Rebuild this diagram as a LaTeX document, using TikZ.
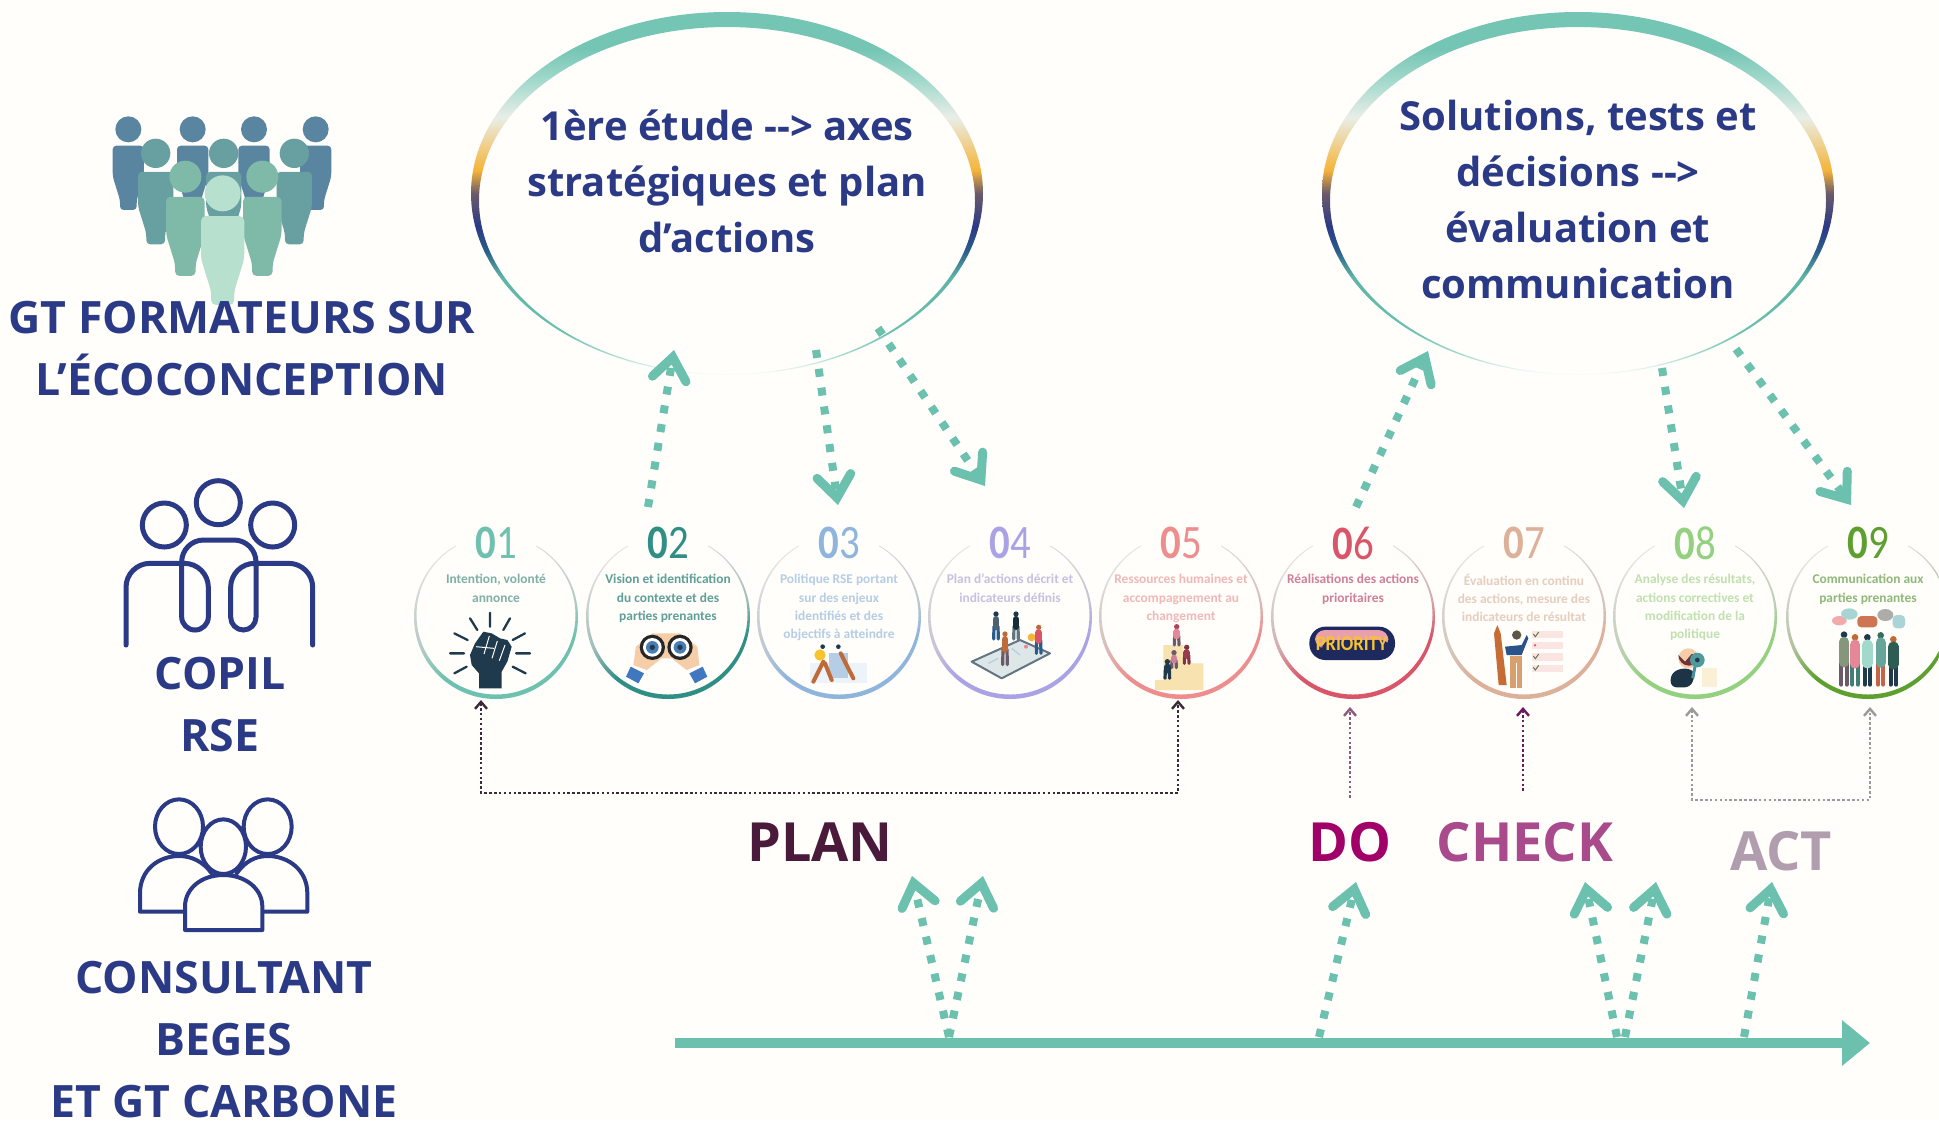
\documentclass[tikz,border=0pt]{standalone}
\usepackage{fontspec}
\usetikzlibrary{arrows.meta}
\newfontfamily\labf{Open Sans}
\newfontfamily\capf{Carlito}
\definecolor{bg}{HTML}{FFFEFA}
\definecolor{navyt}{HTML}{2B3A86}
\definecolor{tealm}{HTML}{6BC0AE}
\definecolor{tealr}{HTML}{74C5B4}
\definecolor{tealf}{HTML}{A3D9CC}
\definecolor{tealt}{HTML}{5DB5A5}
\definecolor{blueb}{HTML}{2A5C8A}
\definecolor{brownb}{HTML}{6A5A6A}
\definecolor{goldb}{HTML}{F5B43A}
\definecolor{paleb}{HTML}{E8EEE8}
\definecolor{fistc}{HTML}{1F3A4D}
\definecolor{gtA}{HTML}{5A85A0}
\definecolor{gtB}{HTML}{689FA0}
\definecolor{gtC}{HTML}{7FBAA8}
\definecolor{gtD}{HTML}{B8E0CF}
\definecolor{rA}{HTML}{6EC1AF}\definecolor{tA}{HTML}{7FAFA8}
\definecolor{rB}{HTML}{2F8F85}\definecolor{tB}{HTML}{5F9F98}
\definecolor{rC}{HTML}{8FB5DC}\definecolor{tC}{HTML}{B5CDE5}
\definecolor{rD}{HTML}{A9A3E6}\definecolor{tD}{HTML}{C8C0E0}
\definecolor{rE}{HTML}{EE8D8D}\definecolor{tE}{HTML}{F0B8B8}
\definecolor{rF}{HTML}{D9556A}\definecolor{tF}{HTML}{D08098}
\definecolor{rG}{HTML}{DDB09A}\definecolor{tG}{HTML}{E5CDC0}
\definecolor{rH}{HTML}{93D080}\definecolor{tH}{HTML}{C0E0B0}
\definecolor{rI}{HTML}{5EA030}\definecolor{tI}{HTML}{8FB87A}
\definecolor{peach}{HTML}{F5CDA8}
\definecolor{cuff}{HTML}{3F78BF}
\definecolor{eyeb}{HTML}{4A7CB5}
\definecolor{rust}{HTML}{C06A3A}
\definecolor{cream}{HTML}{F8E3B0}
\definecolor{plumd}{HTML}{4A1A3A}
\definecolor{doc}{HTML}{A00068}
\definecolor{checkc}{HTML}{A94A8C}
\definecolor{actc}{HTML}{B09EAE}
\definecolor{dotdo}{HTML}{8A5A80}
\definecolor{dotch}{HTML}{6A1A60}
\definecolor{dotact}{HTML}{9A9A9A}
\definecolor{dotplan}{HTML}{3A2A3A}
\pgfdeclareverticalshading{bubring}{100bp}{
 color(0bp)=(bg); color(25bp)=(bg); color(28bp)=(tealf); color(31bp)=(tealm); color(38.5bp)=(tealt);
 color(42.2bp)=(blueb); color(45.4bp)=(navyt); color(50bp)=(brownb); color(53.2bp)=(goldb);
 color(60.5bp)=(paleb); color(65.5bp)=(tealf); color(70bp)=(tealr); color(100bp)=(tealr)}
\newcommand\mkring[1]{%
 \colorlet{m#1}{r#1!55!gray!55!bg}%
 \colorlet{l#1}{r#1!25!gray!38!bg}%
 \colorlet{f#1}{gray!22!bg}%
 \pgfdeclareverticalshading{ring#1}{100bp}{
  color(0bp)=(r#1); color(37bp)=(r#1); color(48bp)=(m#1); color(60bp)=(l#1); color(72bp)=(f#1); color(100bp)=(f#1)}}
\mkring{A}\mkring{B}\mkring{C}\mkring{D}\mkring{E}\mkring{F}\mkring{G}\mkring{H}\mkring{I}
\tikzset{
 x=0.5pt,y=-0.5pt,
 zc/.style 2 args={shift={(#1,#2)},x=0.16667pt,y=-0.16667pt},
 biglab/.style={font=\labf\bfseries\fontsize{22.3}{31}\selectfont,text=navyt,align=center,inner sep=0pt},
 bubtext/.style={font=\labf\bfseries\fontsize{20}{28}\selectfont,text=navyt,align=center,inner sep=0pt},
 pdca/.style={font=\labf\bfseries\fontsize{27}{30}\selectfont,inner sep=0pt},
 tealarrow/.style={draw=tealm,line width=4pt,dash pattern=on 4pt off 5.5pt,
   -{Straight Barb[length=11pt,width=17pt,line width=4.5pt,line cap=round,line join=miter]}},
 axisarrow/.style={draw=tealm,line width=4.7pt,-{Triangle[length=14pt,width=22pt]}},
 dotarrow/.style={line width=1.35pt,dash pattern=on 1.3pt off 1.15pt,
   -{Straight Barb[length=3.5pt,width=6pt,line width=1.2pt]}},
 dotarrows/.style={line width=1.35pt,dash pattern=on 1.3pt off 1.15pt,
   {Straight Barb[length=3.5pt,width=6pt,line width=1.2pt]}-{Straight Barb[length=3.5pt,width=6pt,line width=1.2pt]}},
 circnum/.style={font=\capf\fontsize{24}{24}\selectfont,inner sep=0pt,fill=bg,minimum width=40pt,minimum height=15pt},
 circtxt/.style={font=\capf\bfseries\fontsize{6.7}{9.15}\selectfont,align=center,inner sep=0pt,anchor=north},
 copil/.style={draw=navyt,line width=2.5pt,line cap=round,line join=round},
 consu/.style={draw=navyt,line width=2pt,line cap=round,line join=round},
}
\newcommand\gtperson[4]{%
 \begin{scope}[shift={(#1,#2)},x=#3*0.16667pt,y=-#3*0.16667pt]
 \fill[#4] (0,0) circle[radius=1];
 \pgfmathsetmacro\rc{#3*0.045}
 \fill[#4,rounded corners=\rc pt] (-1.2,1.26) -- (1.2,1.26) -- (1.2,3.64) -- (.64,5.44) -- (.64,6.2) -- (-.64,6.2) -- (-.64,5.44) -- (-1.2,3.64) -- cycle;
 \end{scope}}
\newcommand\mini[6]{%
 \fill[#4] (#1,#2) circle[radius=8];
 \draw[#6,line width=1.6pt,line cap=round] (#1-6,#2+#3*0.5) -- (#1-7,#2+#3) (#1+6,#2+#3*0.5) -- (#1+7,#2+#3);
 \draw[#5,line width=3.4pt,line cap=round] (#1,#2+16) -- (#1,#2+#3*0.5);}
\newcommand\minib[6]{%
 \fill[#4] (#1,#2) circle[radius=10];
 \draw[#6,line width=2pt,line cap=round] (#1-8,#2+#3*0.55) -- (#1-8,#2+#3) (#1+8,#2+#3*0.55) -- (#1+8,#2+#3);
 \draw[#5,line width=5.2pt,line cap=round] (#1,#2+22) -- (#1,#2+#3*0.55);}
\newcommand\circtext[4]{\node[circtxt,text=#3] (#1) at (#2,573.5) {\rule{0pt}{5pt}#4};}
\begin{document}
\begin{tikzpicture}
\fill[bg] (0,0) rectangle (1939,1121);
\useasboundingbox (0,0) rectangle (1939,1121);
\clip (0,0) rectangle (1939,1121);

% GT people icon
\begin{scope}[zc={0}{100}]
 \gtperson{385}{88}{39}{gtA}\gtperson{578}{88}{39}{gtA}\gtperson{762}{88}{39}{gtA}\gtperson{947}{88}{39}{gtA}
 \gtperson{467}{160}{44}{gtB}\gtperson{671}{160}{44}{gtB}\gtperson{883}{160}{44}{gtB}
 \gtperson{556}{230}{48}{gtC}\gtperson{787}{230}{48}{gtC}
 \gtperson{668}{280}{54}{gtD}
\end{scope}
\node[biglab] (gt) at (242,349) {GT FORMATEURS SUR\\L’ÉCOCONCEPTION};

% COPIL icon
\begin{scope}[zc={100}{460}]
 \draw[copil] (355,128) circle[radius=66] (193,195) circle[radius=66] (518,195) circle[radius=66];
 \draw[copil,rounded corners=12pt] (78,555) -- (78,310) -- (325,310)
   [rounded corners=6.6pt] -- (325,510) -- (245,510)
   [rounded corners=11pt] -- (245,240) -- (468,240)
   [rounded corners=6.4pt] -- (468,510) -- (392,510)
   [rounded corners=12pt] -- (392,310) -- (638,310) -- (638,555);
\end{scope}
\node[biglab] (copil) at (220,705) {COPIL\\RSE};

% Consultant icon
\begin{scope}[zc={100}{460}]
 \draw[consu] (237,1100) ellipse[x radius=72,y radius=82] (503,1100) ellipse[x radius=72,y radius=82] (370,1160) ellipse[x radius=68,y radius=82];
 \draw[consu] (250,1355) -- (120,1355) -- (120,1300) .. controls (120,1230) and (175,1188) .. (237,1188) .. controls (275,1188) and (310,1205) .. (335,1240);
 \draw[consu] (490,1355) -- (622,1355) -- (622,1300) .. controls (622,1230) and (565,1188) .. (503,1188) .. controls (465,1188) and (435,1205) .. (410,1240);
 \draw[consu] (255,1410) -- (255,1340) .. controls (255,1285) and (305,1245) .. (370,1245) .. controls (435,1245) and (487,1285) .. (487,1340) -- (487,1410) -- cycle;
\end{scope}
\node[biglab] (cons) at (224,1040) {CONSULTANT\\BEGES\\ET GT CARBONE};

% Bubbles
\shade[shading=bubring,even odd rule] (727,193.5) ellipse[x radius=256,y radius=181.5] (727,200.5) ellipse[x radius=248,y radius=173.5];
\shade[shading=bubring,even odd rule] (1578,193.5) ellipse[x radius=256,y radius=181.5] (1578,200.5) ellipse[x radius=248,y radius=173.5];
\node[bubtext] (bubA) at (727,181) {1ère étude -{}-> axes\\stratégiques et plan\\d’actions};
\node[bubtext] (bubB) at (1578,199) {Solutions, tests et\\décisions -{}->\\évaluation et\\communication};

% Circles
\foreach \n/\cx/\da in {A/496/1,B/668/2,C/839/3,D/1010/4,E/1181/5,F/1353/6,G/1524/7,H/1695/8,I/1868/9}{
 \shade[shading=ring\n,shading angle=18,even odd rule] (\cx,617) circle[radius=82] (\cx,615) circle[radius=79.5];
 \node[circnum,text=r\n] (num\n) at (\cx,543) {\scalebox{.85}[1]{\bfseries 0\mdseries\da}};
}
\circtext{txtA}{496}{tA}{Intention, volonté\\annonce}
\circtext{txtB}{668}{tB}{Vision et identification\\du contexte et des\\parties prenantes}
\circtext{txtC}{839}{tC}{Politique RSE portant\\sur des enjeux\\identifiés et des\\objectifs à atteindre}
\circtext{txtD}{1010}{tD}{Plan d’actions décrit et\\indicateurs définis}
\circtext{txtE}{1181}{tE}{Ressources humaines et\\accompagnement au\\changement}
\circtext{txtF}{1353}{tF}{Réalisations des actions\\prioritaires}
\circtext{txtG}{1524}{tG}{Évaluation en continu\\des actions, mesure des\\indicateurs de résultat}
\circtext{txtH}{1695}{tH}{Analyse des résultats,\\actions correctives et\\modification de la\\politique}
\circtext{txtI}{1868}{tI}{Communication aux\\parties prenantes}

% Icons 01-03
\begin{scope}[zc={420}{530}]
 \draw[fistc,line width=1.15pt,line cap=round]
  (210,248)--(210,290) (150,265)--(172,300) (270,265)--(250,300) (103,310)--(143,330) (315,310)--(278,330)
  (90,370)--(132,370) (330,370)--(288,370) (103,430)--(140,410) (317,430)--(278,410);
 \fill[fistc] (150,375)--(165,340)--(190,305)--(215,310)--(240,325)--(262,330)--(275,350)--(262,395)--(245,425)--(245,475)--(177,475)--(177,430)--(155,405)--cycle;
 \draw[bg,line width=.5pt] (208,318)--(192,372) (232,333)--(216,385) (255,345)--(238,392) (168,350)--(222,355);
 % binoculars
 \fill[peach] (648,350)--(640,405)--(680,420)--(725,385)--(755,385)--(800,420)--(838,405)--(832,350)--(780,310)--(697,310)--cycle;
 \fill[cuff] (632,410)--(672,430)--(655,460)--(618,440)--cycle (848,410)--(808,430)--(825,460)--(862,440)--cycle;
 \fill[black!85] (697,352) circle[radius=38] (780,352) circle[radius=38];
 \fill[white] (697,352) circle[radius=28] (780,352) circle[radius=28];
 \fill[eyeb] (697,352) circle[radius=19] (780,352) circle[radius=19];
 \fill[fistc] (697,352) circle[radius=8] (780,352) circle[radius=8];
 % 03
 \fill[tC!25] (1170,400)--(1340,400)--(1340,458)--(1170,458)--cycle;
 \fill[tC] (1228,370) rectangle (1285,445);
 \fill[goldb!80!yellow] (1200,375) circle[radius=17];
 \fill[fistc] (1208,350) circle[radius=7] (1255,350) circle[radius=7];
 \draw[rust,line width=2pt,line cap=round] (1210,395)--(1180,455) (1215,400)--(1235,450) (1262,370)--(1300,445);
\end{scope}

% Icons 04-06
\begin{scope}[zc={920}{530}]
 \fill[paleb!80!tC,draw=fistc!70,line width=1pt,line join=round] (155,395)--(300,330)--(390,370)--(245,445)--cycle;
 \fill[goldb] (335,322) circle[radius=12];
 \fill[rF!70] (318,350) circle[radius=6];
 \draw[tC,line width=.6pt] (205,400)--(235,385) (275,355)--(300,375);
 \mini{228}{252}{75}{fistc}{fistc!80}{blueb}
 \mini{288}{252}{75}{fistc}{fistc!75!black}{fistc!70}
 \mini{255}{312}{92}{rust}{rust}{brownb}
 \mini{356}{292}{78}{rust}{rF}{blueb}
 % 05
 \fill[cream] (730,345) rectangle (790,480) (790,400) rectangle (850,480) (705,450) rectangle (730,480);
 \mini{770}{290}{55}{rF!80!black}{rF!70}{brownb}
 \mini{800}{352}{48}{rF!60!black}{rF!70!black}{rF!60!black}
 \mini{762}{368}{45}{brownb}{tF}{brownb}
 \mini{742}{395}{50}{fistc}{fistc}{fistc}
 % 06
 \fill[navyt!70!black,rounded corners=8pt] (1168,290) rectangle (1425,390);
 \fill[tF!50!pink,rounded corners=5pt] (1185,300) rectangle (1405,355);
 \fill[navyt!70!black,rounded corners=5pt] (1205,330) rectangle (1412,378);
 \node[font=\capf\bfseries\fontsize{10.5}{11}\selectfont,text=goldb!80!yellow,inner sep=0pt] (prio) at (1295,342) {\scalebox{.88}[1]{PRIORITY}};
\end{scope}

% Icons 07-09
\begin{scope}[zc={1420}{530}]
 \fill[rust!90!orange] (222,310) -- (232,285) -- (242,310) -- (260,465) -- (236,465) -- cycle;
 \fill[fistc!60!brown] (290,315) circle[radius=14];
 \fill[blueb!75!navyt] (255,350) -- (305,345) -- (320,315) -- (325,325) -- (305,375) -- (260,375) -- cycle;
 \fill[rust!55!cream] (270,378) rectangle (305,475);
 \draw[bg,line width=.4pt] (288,400)--(288,475);
 \foreach \yy in {303,335,370,404}{\fill[rE!22!bg] (335,\yy) rectangle (430,\yy+22);}
 \draw[rH!60!black,line width=.5pt] (340,312)--(346,320)--(356,306) (340,378)--(346,386)--(356,372) (340,412)--(346,420)--(356,406);
 \fill[rF] (345,346) circle[radius=4];
 % 08
 \fill[cream!50!bg] (845,415) rectangle (892,470);
 \fill[fistc!90!black,rounded corners=3pt] (752,472) -- (752,430) -- (790,412) -- (828,425) -- (812,472) -- cycle;
 \fill[peach] (805,385) circle[radius=30];
 \fill[plumd!70!rust] (775,375) arc[start angle=180,end angle=0,radius=32] -- (815,372) -- (795,395) -- cycle;
 \fill[tealt!70!blueb] (832,390) circle[radius=22];
 \fill[fistc] (832,390) circle[radius=7];
 \draw[tealt!60!blueb,line width=1.5pt] (825,410)--(818,445);
 % 09
 \fill[rE!75] (1258,272) ellipse[x radius=22,y radius=14];
 \fill[tealf!70!tC] (1288,252) ellipse[x radius=25,y radius=17];
 \fill[rust!70!rE,rounded corners=2pt] (1312,258) rectangle (1372,292);
 \fill[tI!30!brownb!60] (1396,255) ellipse[x radius=24,y radius=18];
 \fill[tealf!55!tC,rounded corners=2pt] (1418,255) rectangle (1455,295);
 \minib{1272}{314}{150}{fistc}{tI!40!gray}{brownb}
 \minib{1305}{322}{142}{rust}{rF!70}{tealt!70!black}
 \minib{1342}{322}{142}{fistc}{tealf}{fistc}
 \minib{1382}{316}{148}{tealt!60!black}{tealt!70!gray}{rust!70!rF}
 \minib{1420}{328}{136}{rust}{tealt!50!black}{fistc}
\end{scope}

% PDCA words
\node[pdca,text=plumd] (plan) at (820,842) {PLAN};
\node[pdca,text=doc] (do) at (1350,842) {DO};
\node[pdca,text=checkc] (check) at (1525,842) {CHECK};
\node[pdca,text=actc] (act) at (1781,851) {ACT};

% Coordinates for connector ends
\coordinate (a1) at (648,507); \coordinate (a2) at (674,350);
\coordinate (b1) at (816,350); \coordinate (b2) at (838,505);
\coordinate (d1) at (878,328); \coordinate (d2) at (985,486);
\coordinate (e1) at (1356,507); \coordinate (e2) at (1428,351);
\coordinate (f1) at (1662,368); \coordinate (f2) at (1684,508);
\coordinate (g1) at (1736,349); \coordinate (g2) at (1851,505);
\coordinate (axs) at (675,1043); \coordinate (axe) at (1870,1043);
\coordinate (p0) at (949,1037); \coordinate (p1) at (912,876); \coordinate (p2) at (983,876);
\coordinate (q0) at (1319,1037); \coordinate (q1) at (1356,882);
\coordinate (r0) at (1617,1037); \coordinate (r1) at (1585,882);
\coordinate (s0) at (1625,1037); \coordinate (s1) at (1656,882);
\coordinate (t0) at (1744,1037); \coordinate (t1) at (1772,882);
\coordinate (u1) at (481,700); \coordinate (u2) at (481,793); \coordinate (u3) at (1178,793); \coordinate (u4) at (1178,700);
\coordinate (v1) at (1350,798); \coordinate (v2) at (1350,707);
\coordinate (w1) at (1523,791); \coordinate (w2) at (1523,707);
\coordinate (y1) at (1692,707); \coordinate (y2) at (1692,800); \coordinate (y3) at (1870,800); \coordinate (y4) at (1870,707);

% Connectors
\draw[axisarrow] (axs) -- (axe);
\draw[tealarrow] (a1) -- (a2);
\draw[tealarrow] (b1) -- (b2);
\draw[tealarrow] (d1) -- (d2);
\draw[tealarrow] (e1) -- (e2);
\draw[tealarrow] (f1) -- (f2);
\draw[tealarrow] (g1) -- (g2);
\draw[tealarrow] (p0) -- (p1);
\draw[tealarrow] (p0) -- (p2);
\draw[tealarrow] (q0) -- (q1);
\draw[tealarrow] (r0) -- (r1);
\draw[tealarrow] (s0) -- (s1);
\draw[tealarrow] (t0) -- (t1);
\draw[dotarrows,draw=dotplan] (u1) -- (u2) -- (u3) -- (u4);
\draw[dotarrow,draw=dotdo] (v1) -- (v2);
\draw[dotarrow,draw=dotch] (w1) -- (w2);
\draw[dotarrows,draw=dotact] (y1) -- (y2) -- (y3) -- (y4);
\end{tikzpicture}
\end{document}
